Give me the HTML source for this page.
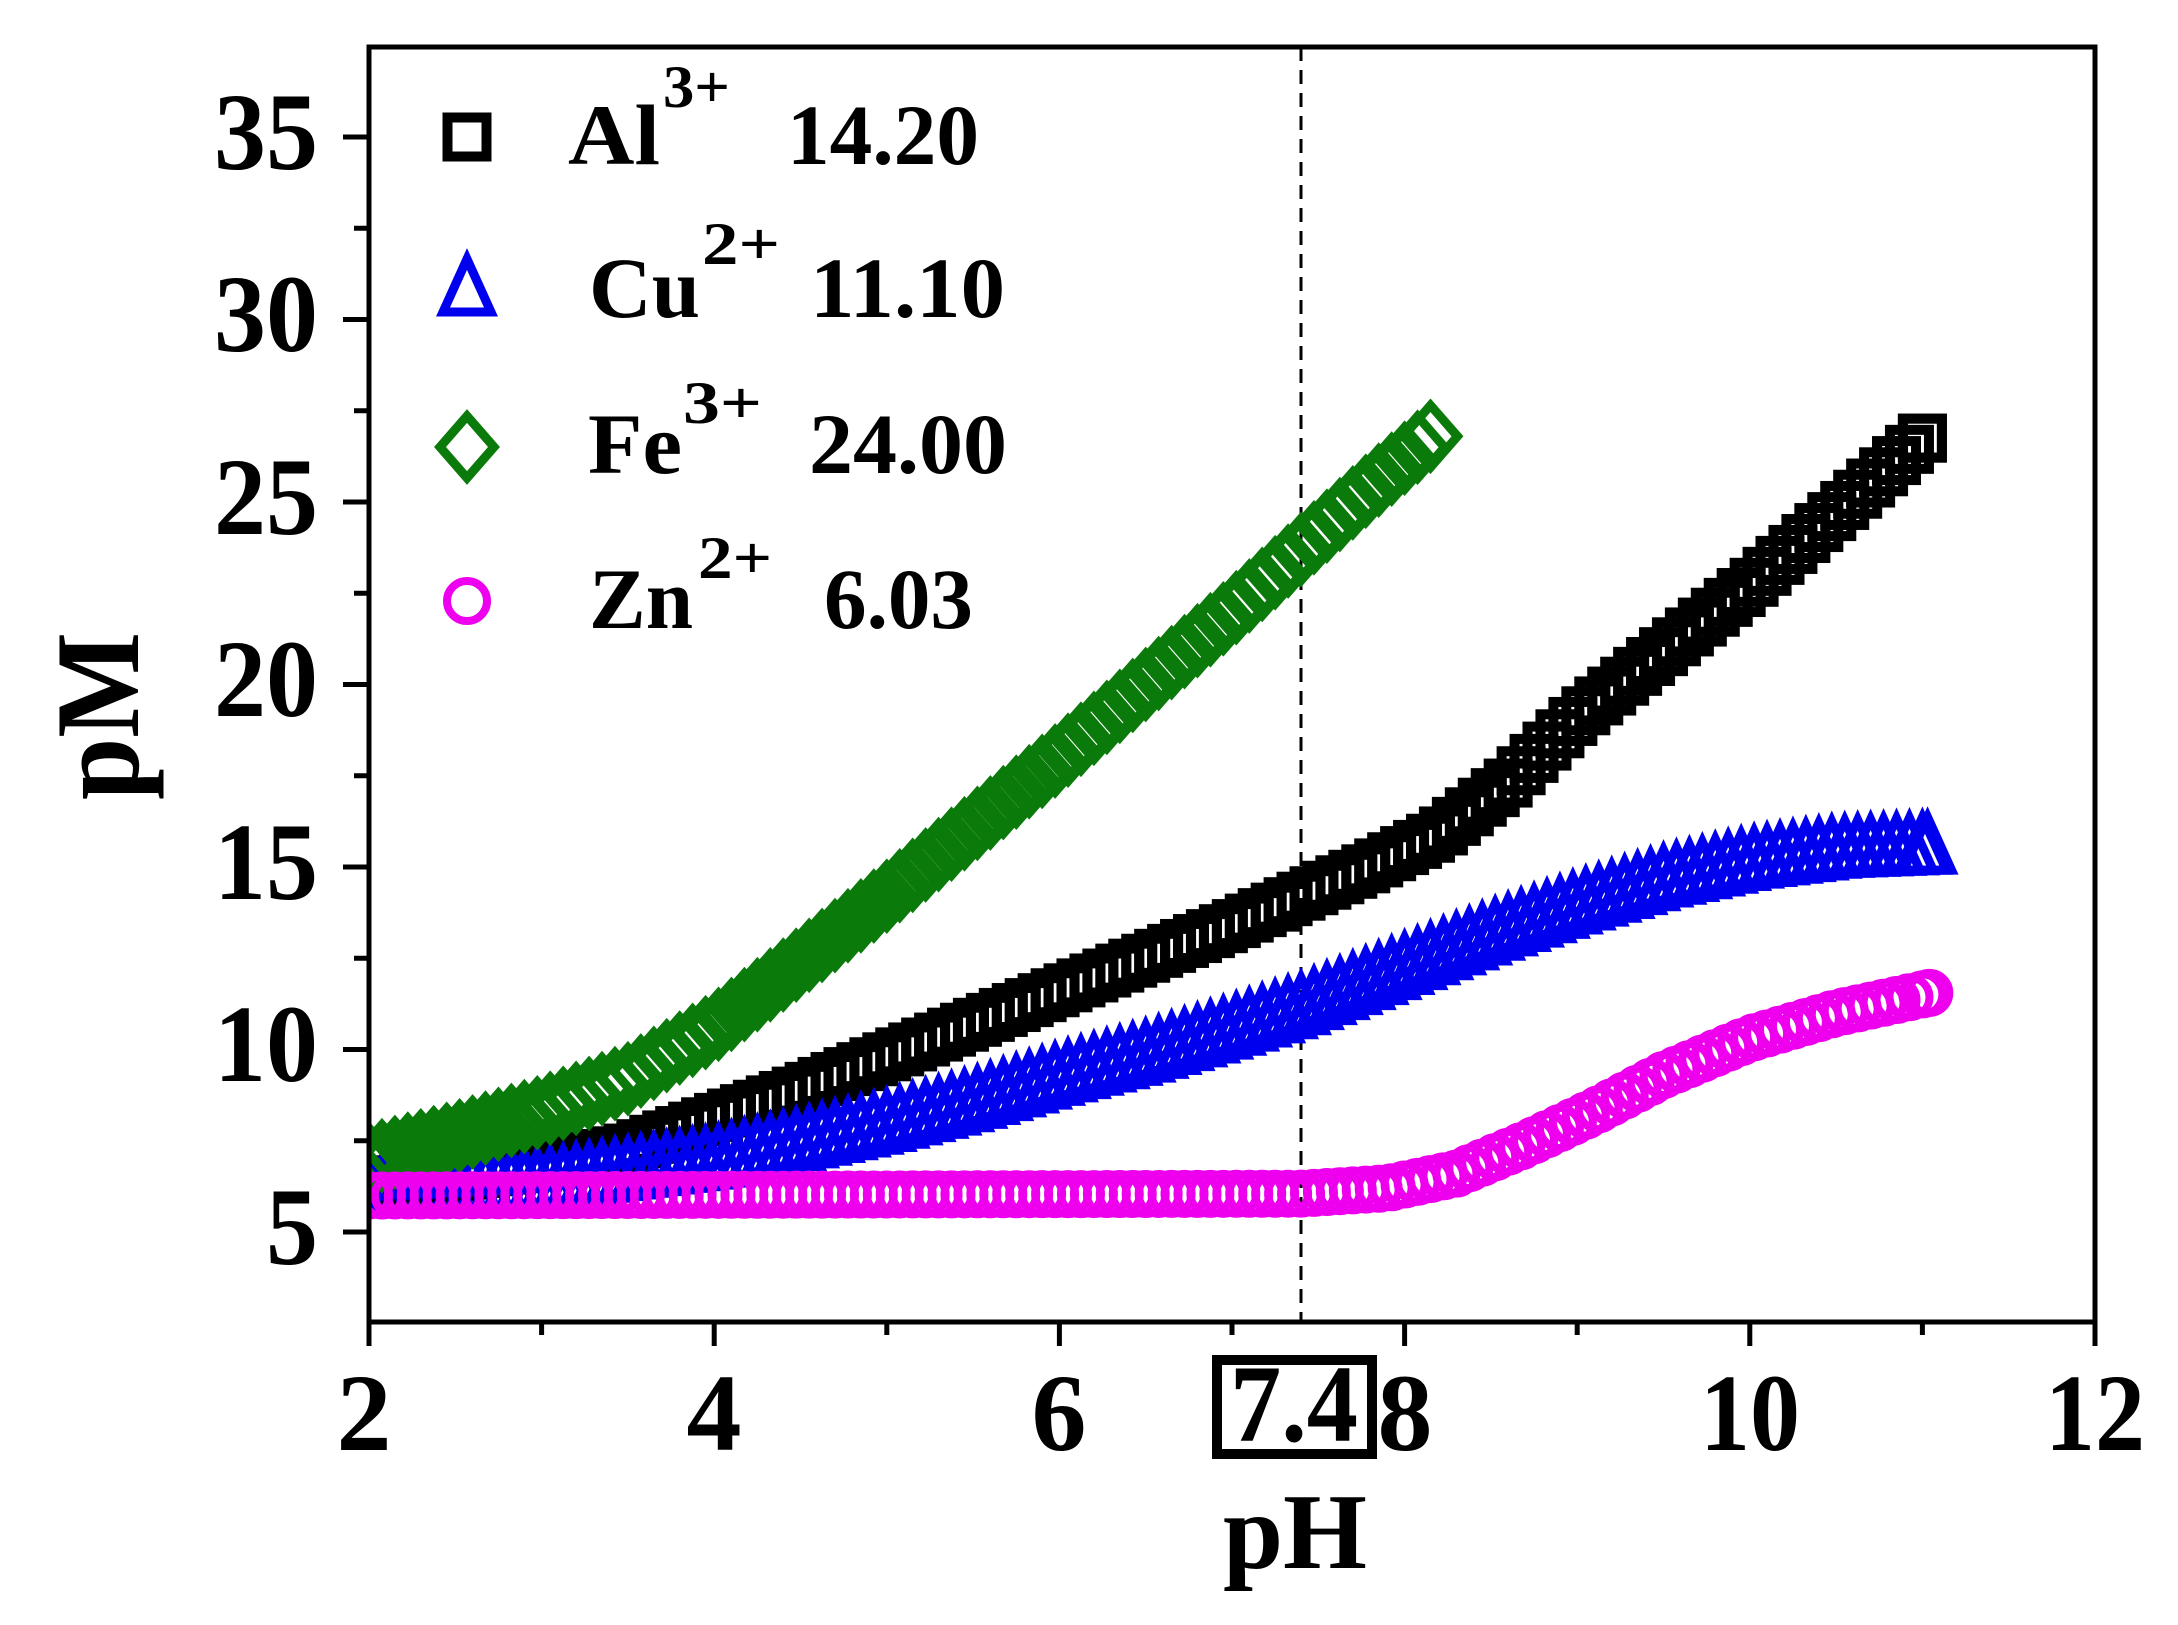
<!DOCTYPE html>
<html><head><meta charset="utf-8">
<style>html,body{margin:0;padding:0;background:#fff;}svg{display:block;}</style>
</head><body>
<svg id="s" width="2178" height="1625" viewBox="0 0 2178 1625" xmlns="http://www.w3.org/2000/svg" font-family="Liberation Serif, serif">
<defs><clipPath id="cp"><rect x="369" y="47" width="1726" height="1275"/></clipPath></defs>
<rect width="2178" height="1625" fill="#fff"/>
<line x1="1301" y1="47" x2="1301" y2="1322" stroke="#000" stroke-width="3" stroke-dasharray="14,9"/>
<g id="data" clip-path="url(#cp)"></g>
<rect x="369" y="47" width="1726" height="1275" fill="none" stroke="#000" stroke-width="5"/>
<g id="ticks" stroke="#000" stroke-width="5"></g>
<g font-weight="bold" font-size="110" text-anchor="end">
<text x="318" y="169" textLength="104" lengthAdjust="spacingAndGlyphs">35</text>
<text x="318" y="351" textLength="104" lengthAdjust="spacingAndGlyphs">30</text>
<text x="318" y="534" textLength="104" lengthAdjust="spacingAndGlyphs">25</text>
<text x="318" y="716" textLength="104" lengthAdjust="spacingAndGlyphs">20</text>
<text x="318" y="899" textLength="104" lengthAdjust="spacingAndGlyphs">15</text>
<text x="318" y="1081" textLength="104" lengthAdjust="spacingAndGlyphs">10</text>
<text x="318" y="1264" textLength="52" lengthAdjust="spacingAndGlyphs">5</text>
</g>
<g font-weight="bold" font-size="110" text-anchor="middle">
<text x="364" y="1450">2</text>
<text x="714" y="1450">4</text>
<text x="1059" y="1450">6</text>
<text x="1405" y="1450">8</text>
<text x="1750" y="1450" textLength="100" lengthAdjust="spacingAndGlyphs">10</text>
<text x="2095" y="1450" textLength="100" lengthAdjust="spacingAndGlyphs">12</text>
</g>
<rect x="1217" y="1360" width="155" height="94" fill="none" stroke="#000" stroke-width="10"/>
<text x="1294" y="1441" font-size="110" font-weight="bold" text-anchor="middle" textLength="128" lengthAdjust="spacingAndGlyphs">7.4</text>
<text x="1295" y="1568" font-size="108" font-weight="bold" text-anchor="middle" textLength="144" lengthAdjust="spacingAndGlyphs">pH</text>
<text transform="translate(138,716) rotate(-90)" font-size="120" font-weight="bold" text-anchor="middle" textLength="168" lengthAdjust="spacingAndGlyphs">pM</text>
<g id="legend"></g>
<g font-weight="bold" font-size="86">
<text x="568" y="164" textLength="92" lengthAdjust="spacingAndGlyphs">Al</text>
<text x="663" y="107" font-size="60" textLength="67" lengthAdjust="spacingAndGlyphs">3+</text>
<text x="787" y="164" textLength="192" lengthAdjust="spacingAndGlyphs">14.20</text>
<text x="589" y="317" textLength="111" lengthAdjust="spacingAndGlyphs">Cu</text>
<text x="702" y="264" font-size="60" textLength="78" lengthAdjust="spacingAndGlyphs">2+</text>
<text x="810" y="317" textLength="195" lengthAdjust="spacingAndGlyphs">11.10</text>
<text x="588" y="473" textLength="94" lengthAdjust="spacingAndGlyphs">Fe</text>
<text x="683" y="423" font-size="60" textLength="79" lengthAdjust="spacingAndGlyphs">3+</text>
<text x="809" y="473" textLength="198" lengthAdjust="spacingAndGlyphs">24.00</text>
<text x="589" y="628" textLength="104" lengthAdjust="spacingAndGlyphs">Zn</text>
<text x="698" y="578" font-size="60" textLength="74" lengthAdjust="spacingAndGlyphs">2+</text>
<text x="824" y="628" textLength="149" lengthAdjust="spacingAndGlyphs">6.03</text>
</g>
</svg>
<script>
(function(){
var NS="http://www.w3.org/2000/svg";
function X(p){return 369+(p-2)*172.6;}
function Y(v){return 137+(35-v)*36.5;}
var ticks=document.getElementById('ticks');
function ln(x1,y1,x2,y2){var l=document.createElementNS(NS,'line');l.setAttribute('x1',x1);l.setAttribute('y1',y1);l.setAttribute('x2',x2);l.setAttribute('y2',y2);ticks.appendChild(l);}
for(var p=2;p<=12;p++){var x=X(p);ln(x,1322,x,1322+(p%2==0?24:13));}
for(var v=2.5;v<=37.5;v+=2.5){var y=Y(v);if(y>1320||y<50)continue;ln(369,y,369-(v%5==0?26:15),y);}
function interp(pts,p){for(var i=0;i<pts.length-1;i++){if(p<=pts[i+1][0]){var a=pts[i],b=pts[i+1];var t=(p-a[0])/(b[0]-a[0]);return a[1]+t*(b[1]-a[1]);}}return pts[pts.length-1][1];}
function marker(g,type,cx,cy,col){var e;
 if(type=='sq'){e=document.createElementNS(NS,'rect');e.setAttribute('x',cx-19.5);e.setAttribute('y',cy-19.5);e.setAttribute('width',39);e.setAttribute('height',39);e.setAttribute('stroke-width',10);}
 else if(type=='tri'){e=document.createElementNS(NS,'polygon');e.setAttribute('points',(cx)+','+(cy-28)+' '+(cx+24)+','+(cy+25)+' '+(cx-24)+','+(cy+25));e.setAttribute('stroke-width',9);}
 else if(type=='dia'){e=document.createElementNS(NS,'polygon');e.setAttribute('points',cx+','+(cy-31)+' '+(cx+27)+','+cy+' '+cx+','+(cy+31)+' '+(cx-27)+','+cy);e.setAttribute('stroke-width',9);}
 else {e=document.createElementNS(NS,'circle');e.setAttribute('cx',cx);e.setAttribute('cy',cy);e.setAttribute('r',20);e.setAttribute('stroke-width',8);}
 e.setAttribute('fill','none');e.setAttribute('stroke',col);g.appendChild(e);}
var series=[
 {t:'sq',c:'#000',end:11.0,pts:[[2,6.4],[2.5,6.5],[3,6.8],[3.5,7.3],[4,8.1],[4.5,8.9],[5,9.8],[5.5,10.7],[6,11.6],[6.5,12.5],[7,13.4],[7.4,14.2],[7.8,15],[8.2,15.9],[8.6,17.3],[9,19.1],[9.5,20.9],[10,22.7],[10.5,24.7],[11,26.75]]},
 {t:'tri',c:'#0000ee',end:11.03,pts:[[2,6.2],[3,6.4],[4,7],[4.5,7.5],[5,8],[5.5,8.6],[6,9.3],[6.5,9.9],[7,10.6],[7.4,11.2],[8,12.3],[8.5,13.2],[9,14],[9.5,14.7],[10,15.2],[10.5,15.5],[11.03,15.6]]},
 {t:'dia',c:'#0a7a0a',end:8.15,pts:[[2,7],[2.5,7.6],[3,8.3],[3.5,9.2],[4,10.6],[4.5,12.4],[5,14.2],[5.5,16.1],[6,18],[6.5,20],[7,22],[7.4,23.7],[7.8,25.4],[8.15,26.8]]},
 {t:'ci',c:'#ee00ee',end:11.04,pts:[[2,6],[7.4,6.05],[7.9,6.2],[8.3,6.6],[8.7,7.4],[9.1,8.3],[9.5,9.3],[10,10.3],[10.5,11],[11.04,11.55]]}
];
var data=document.getElementById('data');
series.forEach(function(s){var g=document.createElementNS(NS,'g');data.appendChild(g);
 for(var p=2.0;p<s.end;p+=0.075){marker(g,s.t,X(p),Y(interp(s.pts,p)),s.c);}
 marker(g,s.t,X(s.end),Y(interp(s.pts,s.end)),s.c);});
var lg=document.getElementById('legend');
marker(lg,'sq',467,137,'#000');marker(lg,'tri',467,287,'#0000ee');marker(lg,'dia',467,447,'#0a7a0a');marker(lg,'ci',467,601,'#ee00ee');
})();
</script>
</body></html>
